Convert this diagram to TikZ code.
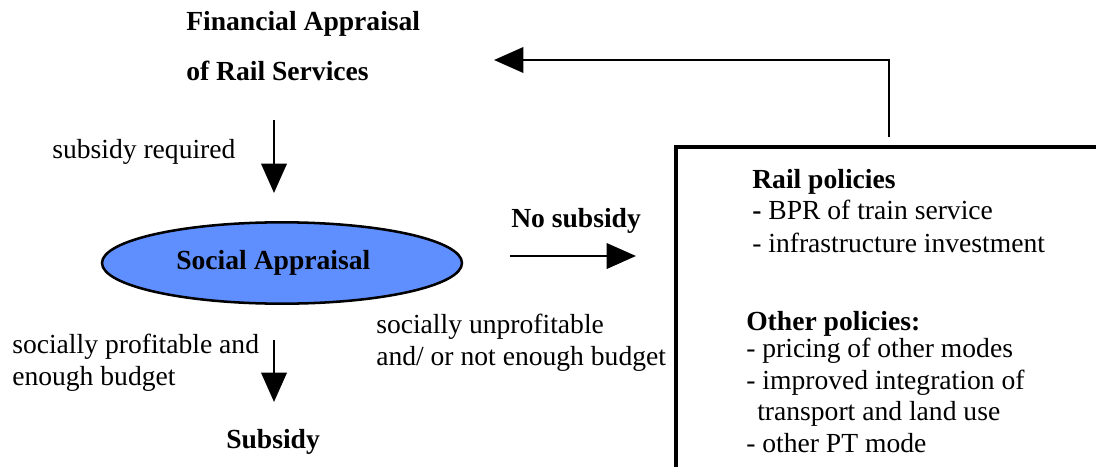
\documentclass[tikz,border=0pt]{standalone}
\usepackage{fontspec}
\setmainfont{Liberation Serif}
\usetikzlibrary{arrows.meta,shapes.geometric}
\definecolor{ovalblue}{HTML}{5F8FFF}
\begin{document}
\begin{tikzpicture}[x=0.75pt,y=-0.75pt,
  txt/.style={anchor=base west,inner sep=0pt,font=\fontsize{20.7}{24}\selectfont},
  bold/.style={anchor=base west,inner sep=0pt,font=\fontsize{20.7}{24}\selectfont\bfseries},
  flow/.style={line width=1.9pt,-{Triangle[length=22pt,width=19pt]}},
  frame/.style={line width=2.3pt},
]
\useasboundingbox (0,0) rectangle (1096,467);

% financial appraisal heading
\node[bold] (fin1) at (186,31) {Financial Appraisal};
\node[bold] (fin2) at (186,81) {of Rail Services};

% social appraisal oval
\node[ellipse,draw,line width=1.9pt,fill=ovalblue,minimum width=270pt,minimum height=61pt,
      inner sep=0pt,font=\fontsize{20.7}{24}\selectfont\bfseries] (soc) at (282,263) {\hspace*{-13pt}Social Appraisal};

\node[bold] (subs) at (226,448) {Subsidy};
\node[bold] (nosub) at (511,227) {No subsidy};

% edge labels
\node[txt] (req) at (52,158) {subsidy required};
\node[txt] (prof1) at (12,353) {socially profitable and};
\node[txt] (prof2) at (12,385) {enough budget};
\node[txt] (unp1) at (376,333) {socially unprofitable};
\node[txt] (unp2) at (376,365) {and/ or not enough budget};

% policy box (runs past the right and bottom edges)
\coordinate (boxtl) at (676,147);
\draw[frame] (676,470) -- (boxtl) -- (1100,147);

\node[bold] (rail) at (752,188) {Rail policies};
\node[txt] (r1) at (752,219) {\textbf{-} BPR of train service};
\node[txt] (r2) at (752,252) {- infrastructure investment};
\node[bold] (oth) at (746,330) {Other policies:};
\node[txt] (o1) at (746,357) {- pricing of other modes};
\node[txt] (o2) at (746,389) {- improved integration of};
\node[txt] (o3) at (757,420) {transport and land use};
\node[txt] (o4) at (746,452) {- other PT mode};

% connectors
\coordinate (a1s) at (274,120);
\coordinate (a1e) at (274,193);
\draw[flow] (a1s) -- (a1e);

\coordinate (a2s) at (274,340);
\coordinate (a2e) at (274,402);
\draw[flow] (a2s) -- (a2e);

\coordinate (a3s) at (510,256);
\coordinate (a3e) at (636,256);
\draw[flow] (a3s) -- (a3e);

\coordinate (fb1) at (889,137);
\coordinate (fb2) at (889,60);
\coordinate (fb3) at (494,60);
\draw[flow] (fb1) -- (fb2) -- (fb3);
\end{tikzpicture}
\end{document}
